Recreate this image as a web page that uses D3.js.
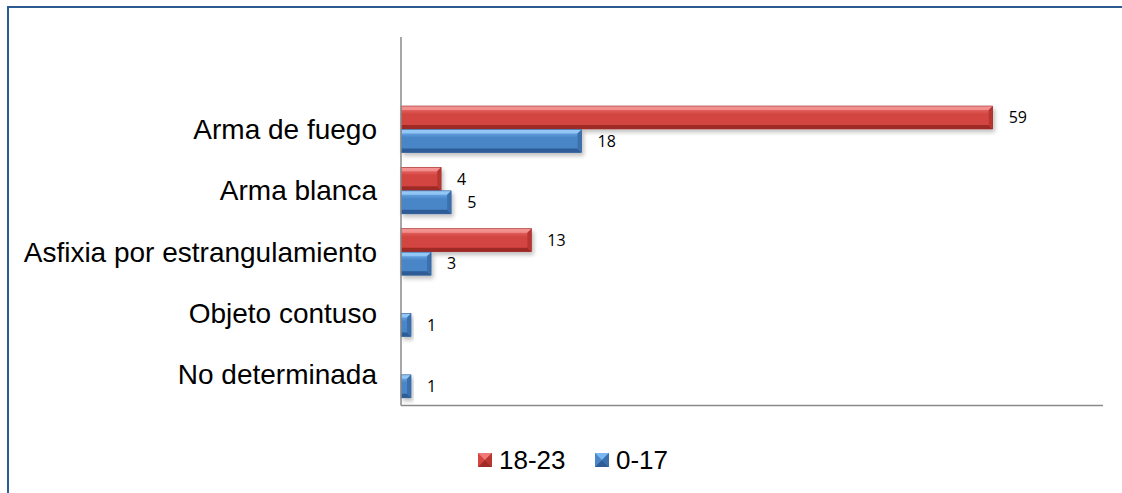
<!DOCTYPE html>
<html><head><meta charset="utf-8">
<script src="https://cdn.jsdelivr.net/npm/d3@7"></script>
<style>html,body{margin:0;padding:0;background:#fff;overflow:hidden}</style>
</head><body>
<svg id="c" width="1122" height="493"></svg>
<script>
const categories = ["Arma de fuego","Arma blanca","Asfixia por estrangulamiento","Objeto contuso","No determinada"];
const seriesNames = ["18-23","0-17"];
const values1823 = [59, 4, 13, 0, 0];
const values017 = [18, 5, 3, 1, 1];

const svg = d3.select("#c");
// frame
svg.append("path").attr("d","M8,493 L8,7 L1122,7").attr("fill","none").attr("stroke","#2c5a92").attr("stroke-width",2);

const x = d3.scaleLinear().domain([0,70]).range([401,1103]);
const y = d3.scaleBand().domain(["",...categories]).range([37,405]);
const barH = 23;

const colors = {
  "18-23": {top:"#f07a78", mid:"#d34541", bot:"#9e2b28", end:"#b93633", hi:"#f59a98"},
  "0-17": {top:"#79b8f2", mid:"#4a86c8", bot:"#2d5c96", end:"#3b70ad", hi:"#9ccdf7"}
};

const defs = svg.append("defs");
Object.entries(colors).forEach(([k,c],i)=>{
  const g = defs.append("linearGradient").attr("id","g"+i).attr("x1",0).attr("y1",0).attr("x2",0).attr("y2",1);
  g.append("stop").attr("offset","0").attr("stop-color",c.top);
  g.append("stop").attr("offset","0.35").attr("stop-color",c.mid);
  g.append("stop").attr("offset","1").attr("stop-color",c.mid);
});
const f = defs.append("filter").attr("id","sh").attr("x","-10%").attr("y","-20%").attr("width","130%").attr("height","160%");
f.append("feGaussianBlur").attr("in","SourceAlpha").attr("stdDeviation",2);
f.append("feOffset").attr("dx",2).attr("dy",3).attr("result","b");
f.append("feComponentTransfer").append("feFuncA").attr("type","linear").attr("slope",0.25);
const fm = f.append("feMerge"); fm.append("feMergeNode"); fm.append("feMergeNode").attr("in","SourceGraphic");

function bevelBar(g, x0, x1, y0, h, c, gi){
  const b = Math.min(4, (x1-x0)/2);
  const grp = g.append("g").attr("filter","url(#sh)");
  grp.append("rect").attr("x",x0).attr("y",y0).attr("width",x1-x0).attr("height",h).attr("fill",`url(#g${gi})`);
  grp.append("path").attr("d",`M${x0},${y0} L${x1},${y0} L${x1-b},${y0+b} L${x0},${y0+b} Z`).attr("fill",c.hi).attr("opacity",0.8);
  grp.append("path").attr("d",`M${x0},${y0+h} L${x1},${y0+h} L${x1-b},${y0+h-b} L${x0},${y0+h-b} Z`).attr("fill",c.bot);
  grp.append("path").attr("d",`M${x1},${y0} L${x1},${y0+h} L${x1-b},${y0+h-b} L${x1-b},${y0+b} Z`).attr("fill",c.end);
  grp.append("rect").attr("x",x0).attr("y",y0).attr("width",x1-x0).attr("height",h).attr("fill","none").attr("stroke",c.bot).attr("stroke-width",0.6);
}

const bars = svg.append("g");
const labels = svg.append("g").attr("font-family","'Open Sans', 'Liberation Sans', sans-serif").attr("font-size",16).attr("fill","#000");
categories.forEach((cat,i)=>{
  const cy = y(cat) + y.bandwidth()/2;
  [[values1823[i],"18-23",0,cy-barH],[values017[i],"0-17",1,cy+0.5]].forEach(([v,s,gi,yy])=>{
    if(!v) return;
    bevelBar(bars, x(0), x(v), yy, barH, colors[s], gi);
    labels.append("text").attr("x",x(v)+16).attr("y",yy+barH/2).attr("dy","0.36em").text(v);
  });
  svg.append("text").attr("x",377).attr("y",cy).attr("dy","0.36em").attr("text-anchor","end")
    .attr("font-family","'Liberation Sans', Arial, sans-serif").attr("font-size",28).attr("fill","#000").text(cat);
});

// axes
svg.append("line").attr("x1",x(0)).attr("x2",x(0)).attr("y1",37).attr("y2",405.5).attr("stroke","#8a8a8a").attr("stroke-width",1.5);
svg.append("line").attr("x1",x(0)).attr("x2",x(70)).attr("y1",405.5).attr("y2",405.5).attr("stroke","#8a8a8a").attr("stroke-width",1.5);

// legend
const leg = svg.append("g");
const legX = [478, 595];
seriesNames.forEach((s,i)=>{
  const c = colors[s];
  const lx = legX[i], ly = 453;
  const sz = 14;
  leg.append("rect").attr("x",lx).attr("y",ly).attr("width",sz).attr("height",sz).attr("fill",c.mid);
  leg.append("path").attr("d",`M${lx},${ly} L${lx+sz},${ly} L${lx+sz/2},${ly+sz/2} Z`).attr("fill",c.top);
  leg.append("path").attr("d",`M${lx},${ly+sz} L${lx+sz},${ly+sz} L${lx+sz/2},${ly+sz/2} Z`).attr("fill",c.bot);
  leg.append("path").attr("d",`M${lx+sz},${ly} L${lx+sz},${ly+sz} L${lx+sz/2},${ly+sz/2} Z`).attr("fill",c.end);
  leg.append("text").attr("x",lx+sz+7).attr("y",ly+sz/2).attr("dy","0.36em")
    .attr("font-family","'Liberation Sans', Arial, sans-serif").attr("font-size",26).attr("fill","#000").text(s);
});
</script>
</body></html>
